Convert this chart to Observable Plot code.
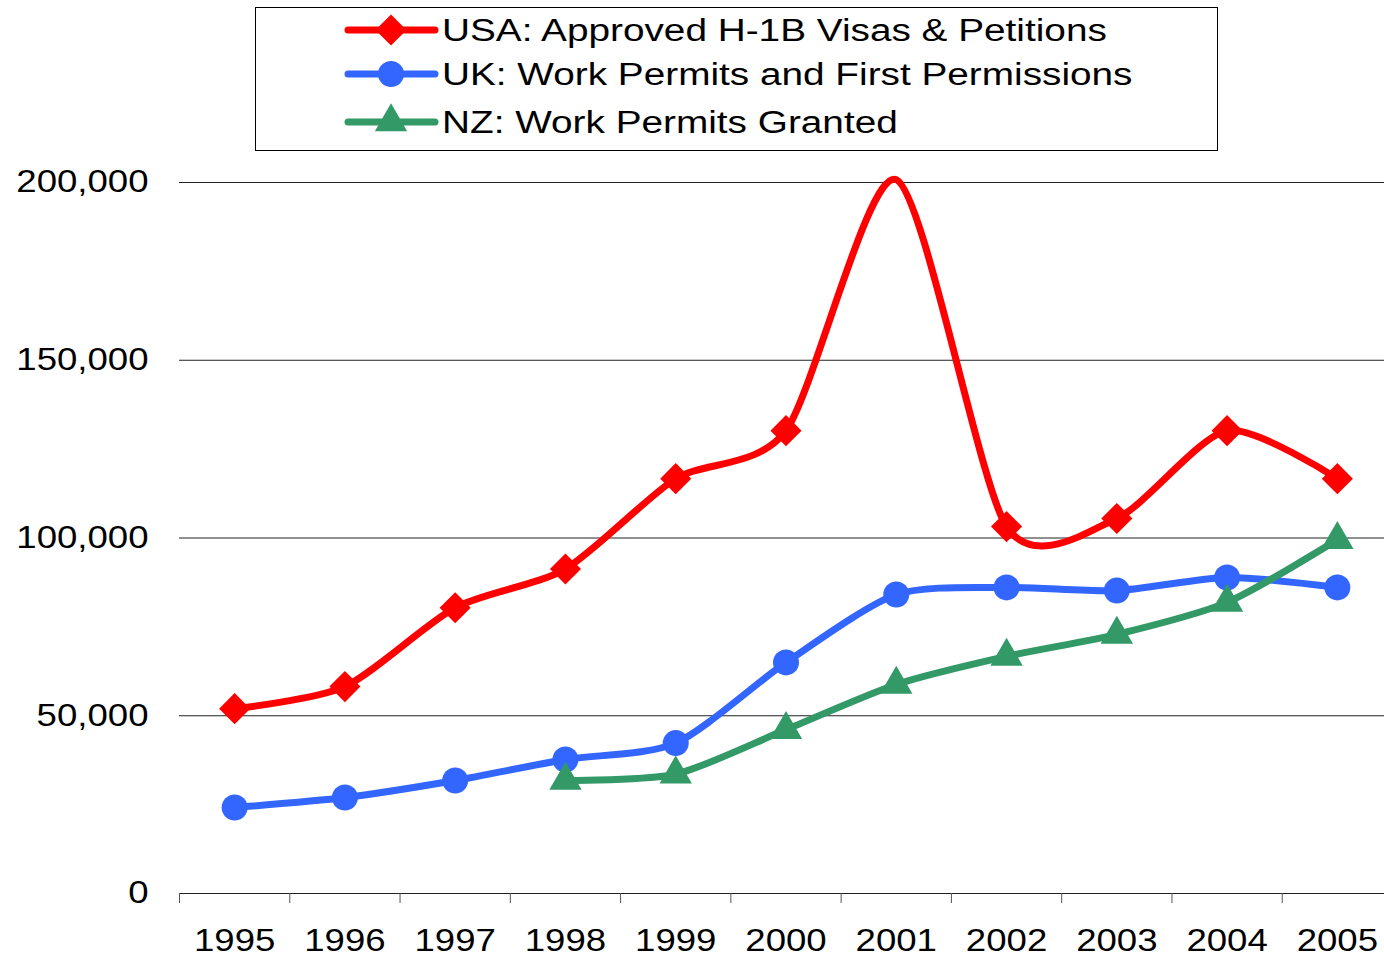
<!DOCTYPE html>
<html><head><meta charset="utf-8">
<script src="https://cdn.jsdelivr.net/npm/d3@7"></script>
<script src="https://cdn.jsdelivr.net/npm/@observablehq/plot@0.6"></script>
<style>
body{margin:0;background:#fff;}
#wrap{position:relative;width:1384px;height:960px;overflow:hidden;font-family:"Liberation Sans",Arial,sans-serif;background:#fff;}
#legend{position:absolute;left:255px;top:7px;width:961px;height:142px;border:1px solid #000;background:#fff;}
#legend svg{display:block;}
</style></head><body>
<div id="wrap"><div id="chart"></div><div id="legend"></div></div>
<script>
// ---- data ----
const years = [1995,1996,1997,1998,1999,2000,2001,2002,2003,2004,2005];
const usaValues = [52000,58200,80400,91300,116700,130200,200800,103200,105500,130200,116700];
const ukValues  = [24200,27000,31800,37700,42300,65000,84100,86100,85200,88900,86100];
const nzYears   = [1998,1999,2000,2001,2002,2003,2004,2005];
const nzValues  = [31800,33600,46100,58800,66700,72900,81900,99500];
const usaHiddenMarkerYears = [2001];
const seriesNames = ["USA: Approved H-1B Visas & Petitions","UK: Work Permits and First Permissions","NZ: Work Permits Granted"];
const seriesColors = ["#ff0000","#3366ff","#339966"];
const seriesSymbols = ["diamond2","circle","triangle"];
const yTicks = [0,50000,100000,150000,200000];

const usa = years.map((year,i)=>({year, value: usaValues[i]}));
const uk  = years.map((year,i)=>({year, value: ukValues[i]}));
const nz  = nzYears.map((year,i)=>({year, value: nzValues[i]}));
const usaDots = usa.filter(d => !usaHiddenMarkerYears.includes(d.year));
const boundaries = years.map(y => y - 0.5);

const lineOpts = (c) => ({x:"year", y:"value", stroke:c, strokeWidth:7, curve:"cardinal", tension:0.25, strokeLinejoin:"round", strokeLinecap:"round"});

const chart = Plot.plot({
  width:1384, height:960,
  marginLeft:179, marginRight:-8, marginTop:182, marginBottom:67,
  style:{fontFamily:"'Liberation Sans', Arial, sans-serif", fontSize:"31px", color:"#000", background:"transparent", overflow:"visible"},
  x:{type:"linear", domain:[1994.5,2005.5], label:null},
  y:{domain:[0,200000], label:null},
  marks:[
    Plot.ruleY(yTicks, {stroke:"#222", strokeWidth:1}),
    Plot.axisY(yTicks, {tickSize:0, tickPadding:31, tickFormat:d3.format(","), fontSize:31, label:null}),
    Plot.axisX(boundaries, {tickSize:10, tickFormat:()=>"", stroke:"#555", label:null}),
    Plot.axisX(years, {tickSize:0, tickPadding:35, tickFormat:d=>String(d), fontSize:31, label:null}),
    Plot.line(usa, lineOpts(seriesColors[0])),
    Plot.dot(usaDots, {x:"year", y:"value", fill:seriesColors[0], symbol:seriesSymbols[0], r:14}),
    Plot.line(uk, lineOpts(seriesColors[1])),
    Plot.dot(uk, {x:"year", y:"value", fill:seriesColors[1], symbol:seriesSymbols[1], r:13}),
    Plot.line(nz, lineOpts(seriesColors[2])),
    Plot.dot(nz, {x:"year", y:"value", fill:seriesColors[2], symbol:seriesSymbols[2], r:12})
  ]
});
document.getElementById("chart").appendChild(chart);

// stretch texts horizontally like the reference
const STRETCH = 1.18;
chart.querySelectorAll("text").forEach(t => {
  const w = t.getComputedTextLength();
  if (w > 0) { t.setAttribute("textLength", w*STRETCH); t.setAttribute("lengthAdjust","spacingAndGlyphs"); }
});

// ---- legend ----
const LEG_STRETCH = 1.25;
const leg = d3.select("#legend").append("svg").attr("width",961).attr("height",142);
const rowY = [22, 66, 114];
const symMap = {diamond2:d3.symbolDiamond2, circle:d3.symbolCircle, triangle:d3.symbolTriangle};
const symR = [14,13,12];
seriesNames.forEach((name,i) => {
  const g = leg.append("g").attr("transform",`translate(0,${rowY[i]})`);
  g.append("line").attr("x1",92).attr("x2",179).attr("y1",0).attr("y2",0)
    .attr("stroke",seriesColors[i]).attr("stroke-width",7).attr("stroke-linecap","round");
  g.append("path").attr("transform","translate(135,0)")
    .attr("d", d3.symbol(symMap[seriesSymbols[i]], Math.PI*symR[i]*symR[i])())
    .attr("fill",seriesColors[i]);
  const t = g.append("text").attr("x",186).attr("y",0).attr("dy","0.36em")
    .attr("font-family","'Liberation Sans', Arial, sans-serif").attr("font-size",31).attr("fill","#000").text(name);
  const w = t.node().getComputedTextLength();
  t.attr("textLength", w*LEG_STRETCH).attr("lengthAdjust","spacingAndGlyphs");
});
</script>
</body></html>
